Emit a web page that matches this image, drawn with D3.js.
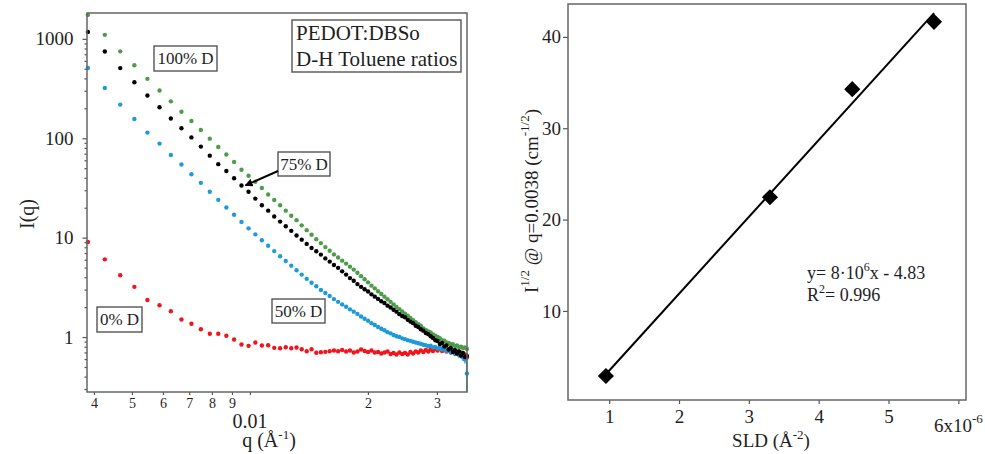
<!DOCTYPE html>
<html>
<head>
<meta charset="utf-8">
<script src="https://cdn.jsdelivr.net/npm/d3@7"></script>
<style>
  body { margin: 0; background: #fff; }
  svg text { font-family: "Liberation Serif", "Times New Roman", serif; fill: #1e1e1e; }
</style>
</head>
<body>
<svg id="chart" width="985" height="454"></svg>
<script>
// ---- SANS curves, PEDOT:DBSo in D/H toluene mixtures ----
const qValues = [
  0.00386, 0.004264, 0.004668, 0.005072, 0.005476, 0.00588, 0.006284, 0.006688, 0.007092, 0.007496,
  0.0079, 0.008304, 0.008708, 0.009112, 0.009516, 0.00992, 0.010324, 0.010728, 0.011132, 0.011536,
  0.01194, 0.012344, 0.012748, 0.013152, 0.013556, 0.01396, 0.014364, 0.014768, 0.015172, 0.015576,
  0.01598, 0.016384, 0.016788, 0.017192, 0.017596, 0.018, 0.018404, 0.018808, 0.019212, 0.019616,
  0.02002, 0.020424, 0.020828, 0.021232, 0.021636, 0.02204, 0.022444, 0.022848, 0.023252, 0.023656,
  0.02406, 0.024464, 0.024868, 0.025272, 0.025676, 0.02608, 0.026484, 0.026888, 0.027292, 0.027696,
  0.0281, 0.028504, 0.028908, 0.029312, 0.029716, 0.03012, 0.030524, 0.030928, 0.031332, 0.031736,
  0.03214, 0.032544, 0.032948, 0.033352, 0.033756, 0.03416, 0.034564, 0.034968, 0.035372, 0.035776
];
const green100 = [
  1742, 1097, 749, 542, 396, 302, 235, 185, 149, 121,
  99.1, 81.6, 68.7, 57.8, 48.2, 42.0, 36.5, 31.6, 27.2, 23.9,
  21.2, 18.7, 16.6, 15.0, 13.3, 11.9, 10.7, 9.66, 8.81, 8.03,
  7.37, 6.78, 6.31, 5.87, 5.48, 5.11, 4.77, 4.43, 4.10, 3.81,
  3.55, 3.29, 3.09, 2.89, 2.71, 2.55, 2.40, 2.26, 2.13, 2.01,
  1.91, 1.81, 1.72, 1.64, 1.56, 1.48, 1.41, 1.35, 1.30, 1.22,
  1.18, 1.14, 1.11, 1.06, 1.03, 1.00, 0.972, 0.930, 0.918, 0.880,
  0.874, 0.845, 0.846, 0.815, 0.822, 0.795, 0.800, 0.776, 0.788, 0.760
];
const black75 = [
  1175, 747, 508, 366, 269, 205, 158, 126, 102, 82.4,
  66.8, 54.9, 46.9, 39.6, 33.5, 29.0, 24.7, 21.2, 18.7, 16.3,
  14.5, 13.0, 11.7, 10.5, 9.55, 8.65, 7.88, 7.30, 6.75, 6.18,
  5.74, 5.31, 4.97, 4.58, 4.25, 3.92, 3.68, 3.41, 3.20, 3.03,
  2.87, 2.69, 2.55, 2.42, 2.29, 2.20, 2.07, 1.98, 1.88, 1.80,
  1.70, 1.63, 1.58, 1.49, 1.43, 1.38, 1.30, 1.26, 1.20, 1.16,
  1.10, 1.07, 1.02, 0.977, 0.927, 0.912, 0.851, 0.870, 0.803, 0.821,
  0.749, 0.775, 0.707, 0.741, 0.683, 0.715, 0.652, 0.691, 0.629, 0.644
];
const blue50 = [
  509, 320, 218, 156, 114, 88.3, 67.9, 54.4, 43.5, 35.6,
  29.0, 24.0, 20.1, 17.0, 14.4, 12.4, 10.8, 9.42, 8.28, 7.32,
  6.50, 5.82, 5.23, 4.70, 4.25, 3.85, 3.52, 3.24, 2.97, 2.77,
  2.59, 2.41, 2.26, 2.13, 2.02, 1.90, 1.80, 1.71, 1.61, 1.53,
  1.46, 1.38, 1.32, 1.26, 1.21, 1.17, 1.12, 1.09, 1.05, 1.02,
  1.00, 0.970, 0.952, 0.931, 0.916, 0.897, 0.881, 0.865, 0.855, 0.837,
  0.829, 0.810, 0.818, 0.788, 0.797, 0.769, 0.780, 0.749, 0.761, 0.723,
  0.740, 0.702, 0.723, 0.683, 0.702, 0.659, 0.675, 0.624, 0.594, 0.430
];
const red0 = [
  9.05, 6.05, 4.18, 3.20, 2.36, 2.09, 1.82, 1.50, 1.36, 1.20,
  1.08, 1.08, 1.03, 0.944, 0.841, 0.816, 0.881, 0.822, 0.827, 0.779,
  0.772, 0.790, 0.772, 0.784, 0.754, 0.720, 0.754, 0.694, 0.704, 0.710,
  0.720, 0.732, 0.720, 0.740, 0.715, 0.732, 0.699, 0.715, 0.749, 0.723,
  0.707, 0.732, 0.699, 0.707, 0.683, 0.699, 0.715, 0.675, 0.691, 0.667,
  0.699, 0.675, 0.691, 0.667, 0.707, 0.683, 0.715, 0.699, 0.732, 0.707,
  0.740, 0.715, 0.749, 0.723, 0.757, 0.732, 0.766, 0.723, 0.757, 0.715,
  0.749, 0.699, 0.732, 0.683, 0.715, 0.667, 0.699, 0.652, 0.667, 0.622
];
// relative uncertainties of the last ten points (high-q tail)
const blueTailErr  = [0.04, 0.05, 0.04, 0.06, 0.05, 0.07, 0.06, 0.08, 0.09, 0.35];
const blackTailErr = [0.03, 0.04, 0.03, 0.05, 0.04, 0.05, 0.06, 0.05, 0.07, 0.06];

const yMajorTicks = [1, 10, 100, 1000];
const xTickValues = [0.004, 0.005, 0.006, 0.007, 0.008, 0.009, 0.01, 0.02, 0.03];
const xTickText   = ["4", "5", "6", "7", "8", "9", "", "2", "3"];

// ---- contrast series: I^(1/2) at q = 0.0038 vs solvent SLD ----
const sld    = [0.953, 3.302, 4.481, 5.652];   // x 10^-6 Å^-2
const sqrtI  = [2.88, 22.45, 34.28, 41.65];
const sldTicks = [1, 2, 3, 4, 5, 6];
const sqrtTicks = [10, 20, 30, 40];

const colors = { green: "#4e9c4a", black: "#000000", blue: "#1e9bd7", red: "#f2141a" };

const svg = d3.select("#chart");

// ================= left panel =================
const L = { left: 87, right: 467, top: 13, bottom: 392 };
const x = d3.scaleLog().domain([0.00384, 0.0358]).range([L.left, L.right]);
const y = d3.scaleLog().domain([0.28, 1820]).range([L.bottom, L.top]);

const yMinor = [];
[0.1, 1, 10, 100].forEach(dec => { for (let k = 2; k <= 9; k++) yMinor.push(dec * k); });

function styleAxis(g, size) {
  g.select(".domain").remove();
  g.selectAll(".tick line").attr("stroke", "#555").attr("stroke-width", 1.2);
  g.selectAll(".tick text").attr("font-size", size).attr("fill", "#1e1e1e");
}

svg.append("g").attr("transform", `translate(${L.left},0)`)
  .call(d3.axisLeft(y).tickValues(yMinor.filter(v => v > 0.28 && v < 1820)).tickFormat("").tickSize(2.5))
  .call(g => styleAxis(g, 0));
svg.append("g").attr("transform", `translate(${L.left},0)`)
  .call(d3.axisLeft(y).tickValues(yMajorTicks).tickFormat(d3.format("d")).tickSize(4.5).tickPadding(9))
  .call(g => styleAxis(g, 19));

svg.append("g").attr("transform", `translate(0,${L.bottom})`)
  .call(d3.axisBottom(x).tickValues(xTickValues).tickFormat((d, i) => xTickText[i]).tickSize(3).tickPadding(3))
  .call(g => styleAxis(g, 14))
  .call(g => g.selectAll(".tick text").attr("fill", "#444"));

svg.append("text").attr("x", x(0.01)).attr("y", 428).attr("text-anchor", "middle")
  .attr("font-size", 20).text("0.01");

const qLab = svg.append("text").attr("x", 269).attr("y", 447).attr("text-anchor", "middle").attr("font-size", 20);
qLab.append("tspan").text("q (Å");
qLab.append("tspan").attr("dy", -8).attr("font-size", 13).text("-1");
qLab.append("tspan").attr("dy", 8).text(")");

svg.append("text").attr("transform", "translate(27,214) rotate(-90)").attr("y", 7)
  .attr("text-anchor", "middle").attr("font-size", 20).text("I(q)");

// data
const series = [
  { vals: red0, color: colors.red },
  { vals: blue50, color: colors.blue },
  { vals: green100, color: colors.green },
  { vals: black75, color: colors.black }
];
const tailStart = qValues.length - 10;
[{ vals: blue50, err: blueTailErr, color: colors.blue },
 { vals: black75, err: blackTailErr, color: colors.black }].forEach(s => {
  svg.append("g").selectAll("line").data(s.err).join("line")
    .attr("x1", (e, i) => x(qValues[tailStart + i]))
    .attr("x2", (e, i) => x(qValues[tailStart + i]))
    .attr("y1", (e, i) => y(Math.max(0.28, s.vals[tailStart + i] * (1 - e))))
    .attr("y2", (e, i) => y(s.vals[tailStart + i] * (1 + e)))
    .attr("stroke", s.color).attr("stroke-width", 1.3);
});
series.forEach(s => {
  svg.append("g").selectAll("circle").data(s.vals).join("circle")
    .attr("cx", (d, i) => x(qValues[i]))
    .attr("cy", d => y(d))
    .attr("r", 2.2)
    .attr("fill", s.color);
});

svg.append("rect").attr("x", L.left).attr("y", L.top)
  .attr("width", L.right - L.left).attr("height", L.bottom - L.top)
  .attr("fill", "none").attr("stroke", "#666").attr("stroke-width", 1.5);

// annotation boxes
function labelBox(bx, by, w, h, lines, size, anchor) {
  const g = svg.append("g");
  g.append("rect").attr("x", bx).attr("y", by).attr("width", w).attr("height", h)
    .attr("fill", "#fff").attr("stroke", "#555").attr("stroke-width", 1.4);
  const lh = h / lines.length;
  lines.forEach((t, i) => {
    g.append("text")
      .attr("x", anchor === "start" ? bx + 4 : bx + w / 2)
      .attr("y", by + lh * i + lh / 2)
      .attr("dy", "0.34em")
      .attr("text-anchor", anchor || "middle")
      .attr("font-size", size).text(t);
  });
}
labelBox(154, 46, 63, 25, ["100% D"], 17);
labelBox(292, 20, 169, 52, ["PEDOT:DBSo", "D-H Toluene ratios"], 21, "start");
labelBox(278, 152, 52, 24, ["75% D"], 17);
labelBox(272, 299, 53, 24, ["50% D"], 17);
labelBox(97, 307, 45, 25, ["0% D"], 17);

// arrow from the 75% D label to its curve
svg.append("defs").append("marker").attr("id", "arrowHead")
  .attr("viewBox", "0 0 10 10").attr("refX", 9).attr("refY", 5)
  .attr("markerWidth", 4).attr("markerHeight", 4).attr("orient", "auto")
  .append("path").attr("d", "M0,0 L10,5 L0,10 Z").attr("fill", "#000");
svg.append("line").attr("x1", 278).attr("y1", 171)
  .attr("x2", x(qValues[14]) + 4).attr("y2", y(black75[14]))
  .attr("stroke", "#000").attr("stroke-width", 2).attr("marker-end", "url(#arrowHead)");

// ================= right panel =================
const R = { left: 568, right: 966, top: 4, bottom: 400 };
const xs = d3.scaleLinear().domain([0.41, 6.11]).range([R.left, R.right]);
const ys = d3.scaleLinear().domain([0.25, 43.6]).range([R.bottom, R.top]);

svg.append("g").attr("transform", `translate(${R.left},0)`)
  .call(d3.axisLeft(ys).tickValues(sqrtTicks).tickSize(5).tickPadding(2))
  .call(g => styleAxis(g, 19));
svg.append("g").attr("transform", `translate(0,${R.bottom})`)
  .call(d3.axisBottom(xs).tickValues(sldTicks).tickFormat(d => d === 6 ? "" : d).tickSize(4).tickPadding(6))
  .call(g => styleAxis(g, 19));

const six = svg.append("text").attr("x", xs(6)).attr("y", 432).attr("text-anchor", "middle").attr("font-size", 19);
six.append("tspan").text("6x10");
six.append("tspan").attr("dy", -9).attr("font-size", 13).text("-6");

const sldLab = svg.append("text").attr("x", 771).attr("y", 447).attr("text-anchor", "middle").attr("font-size", 19);
sldLab.append("tspan").text("SLD (Å");
sldLab.append("tspan").attr("dy", -8).attr("font-size", 13).text("-2");
sldLab.append("tspan").attr("dy", 8).text(")");

const yLab = svg.append("text").attr("transform", "translate(531,201) rotate(-90)").attr("y", 7)
  .attr("text-anchor", "middle").attr("font-size", 19);
yLab.append("tspan").text("I");
yLab.append("tspan").attr("dy", -9).attr("font-size", 13).text("1/2");
yLab.append("tspan").attr("dy", 9).text(" @ q=0.0038 (cm");
yLab.append("tspan").attr("dy", -9).attr("font-size", 13).text("-1/2");
yLab.append("tspan").attr("dy", 9).text(")");

// least-squares line through the four points
const mx = d3.mean(sld), my = d3.mean(sqrtI);
const slope = d3.sum(sld, (v, i) => (v - mx) * (sqrtI[i] - my)) / d3.sum(sld, v => (v - mx) ** 2);
const intercept = my - slope * mx;
const xExt = d3.extent(sld);
svg.append("line")
  .attr("x1", xs(xExt[0])).attr("y1", ys(slope * xExt[0] + intercept))
  .attr("x2", xs(xExt[1])).attr("y2", ys(slope * xExt[1] + intercept))
  .attr("stroke", "#000").attr("stroke-width", 2);

svg.append("g").selectAll("path").data(sld).join("path")
  .attr("d", d3.symbol(d3.symbolSquare, 130)())
  .attr("transform", (d, i) => `translate(${xs(d)},${ys(sqrtI[i])}) rotate(45)`)
  .attr("fill", "#000");

svg.append("rect").attr("x", R.left).attr("y", R.top)
  .attr("width", R.right - R.left).attr("height", R.bottom - R.top)
  .attr("fill", "none").attr("stroke", "#666").attr("stroke-width", 1.5);

const eq = svg.append("text").attr("x", 807).attr("y", 279).attr("font-size", 18);
eq.append("tspan").text("y= 8·10");
eq.append("tspan").attr("dy", -8).attr("font-size", 12).text("6");
eq.append("tspan").attr("dy", 8).text("x - 4.83");
const r2 = svg.append("text").attr("x", 807).attr("y", 301).attr("font-size", 18);
r2.append("tspan").text("R");
r2.append("tspan").attr("dy", -8).attr("font-size", 12).text("2");
r2.append("tspan").attr("dy", 8).text("= 0.996");
</script>
</body>
</html>
